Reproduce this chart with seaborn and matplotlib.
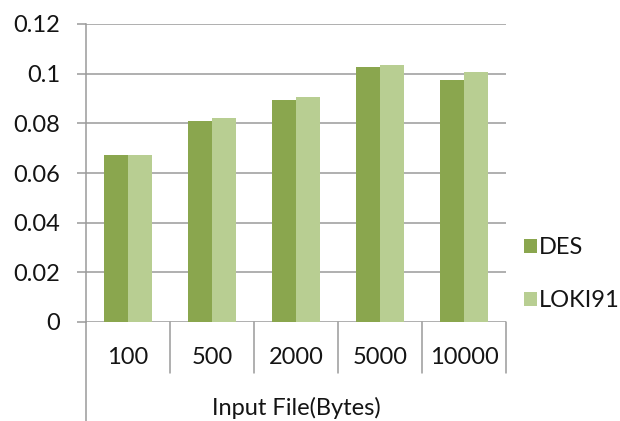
import matplotlib
matplotlib.use("Agg")
import matplotlib.pyplot as plt
import matplotlib.transforms as mtransforms
import pandas as pd
import seaborn as sns

# Encryption time per input file size
sizes = ["100", "500", "2000", "5000", "10000"]
des = [0.0673, 0.0811, 0.0894, 0.1028, 0.0975]
loki91 = [0.0673, 0.0823, 0.0905, 0.1034, 0.1007]
yticks = [0, 0.02, 0.04, 0.06, 0.08, 0.1, 0.12]
ytick_labels = ["0", "0.02", "0.04", "0.06", "0.08", "0.1", "0.12"]

df = pd.DataFrame({
    "size": sizes * 2,
    "time": des + loki91,
    "algo": ["DES"] * len(sizes) + ["LOKI91"] * len(sizes),
})

sns.set_theme(style="white")
plt.rcParams["font.family"] = ["Lato", "DejaVu Sans"]

fig = plt.figure(figsize=(6.2, 4.21), dpi=100)
ax = fig.add_axes([86 / 620, 1 - 322 / 421, 420 / 620, 298 / 421])

grid_c = "#9a9a9a"
text_c = "#141414"
fs = 17

sns.barplot(data=df, x="size", y="time", hue="algo", order=sizes,
            palette={"DES": "#8aa64e", "LOKI91": "#b8ce92"},
            width=0.57, saturation=1, ax=ax, zorder=3, linewidth=0)

ax.set_xlim(-0.5, len(sizes) - 0.5)
ax.set_ylim(0, 0.12)
ax.set_yticks(yticks)
ax.set_yticklabels(ytick_labels)
for y in yticks:
    ax.axhline(y, color=grid_c, lw=1.1, zorder=1)

for side in ["top", "right", "bottom"]:
    ax.spines[side].set_visible(False)
ax.spines["left"].set_color(grid_c)
ax.spines["left"].set_linewidth(1.1)

ax.tick_params(axis="y", left=True, length=6.5, width=1.1, color=grid_c,
               pad=12, labelsize=fs, labelcolor=text_c)
ax.tick_params(axis="x", bottom=False, pad=12, labelsize=fs, labelcolor=text_c)
ax.set_xlabel("")
ax.set_ylabel("")

# category table under the axis
trans = mtransforms.blended_transform_factory(ax.transData, ax.transAxes)
sep_bottom = -(373 - 322) / 298
for b in [0.5, 1.5, 2.5, 3.5, 4.5]:
    ax.plot([b, b], [0, sep_bottom], color=grid_c, lw=1.1,
            transform=trans, clip_on=False)
ax.plot([-0.5, -0.5], [0, -(421 - 322) / 298], color=grid_c, lw=1.1,
        transform=trans, clip_on=False)

ax.text(0.5, -(408 - 322) / 298, "Input File(Bytes)", transform=ax.transAxes,
        ha="center", va="center", fontsize=fs, color=text_c)

ax.legend(loc="center left", bbox_to_anchor=(1.003, 0.16), frameon=False,
          fontsize=fs, handlelength=0.55, handleheight=0.55,
          handletextpad=0.1, labelspacing=1.35, labelcolor=text_c,
          borderpad=0.2)

fig.savefig("out.png", dpi=100)
